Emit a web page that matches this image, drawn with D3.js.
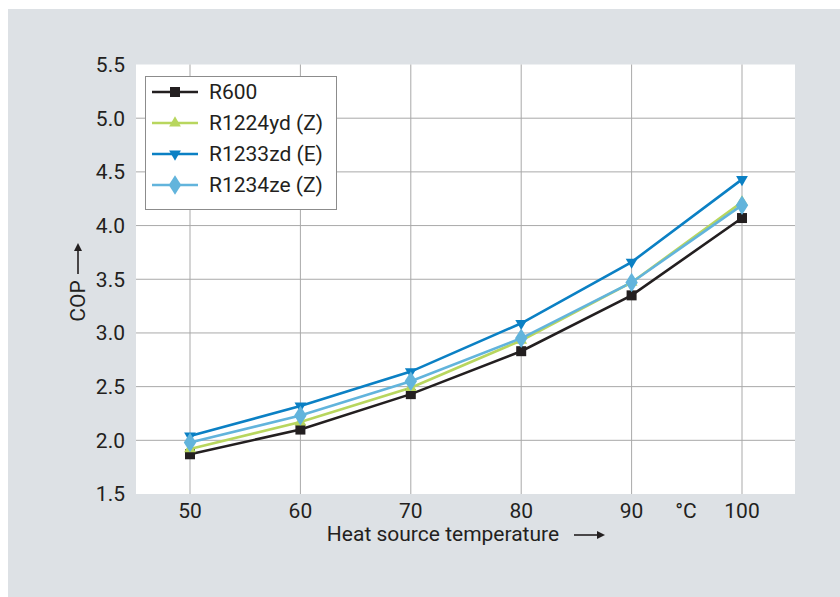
<!DOCTYPE html>
<html><head><meta charset="utf-8">
<script src="https://cdn.jsdelivr.net/npm/d3@7"></script>
<style>body{margin:0;background:#fff;}svg{display:block;font-family:Roboto, "Noto Sans", sans-serif;}</style>
</head><body>
<svg id="c" width="840" height="597"></svg>
<script>
const temps = [50, 60, 70, 80, 90, 100];
const seriesNames = ["R600", "R1224yd (Z)", "R1233zd (E)", "R1234ze (Z)"];
const r600 = [1.87, 2.10, 2.43, 2.83, 3.35, 4.07];
const r1224yd = [1.92, 2.17, 2.49, 2.93, 3.47, 4.22];
const r1233zd = [2.04, 2.32, 2.64, 3.09, 3.66, 4.43];
const r1234ze = [1.98, 2.23, 2.55, 2.95, 3.47, 4.19];
const yTicks = [1.5, 2.0, 2.5, 3.0, 3.5, 4.0, 4.5, 5.0, 5.5];
const xTicks = [50, 60, 70, 80, 90, 100];

const colors = ["#231f20", "#b8d65e", "#0b80c4", "#62b4dc"];
const symbols = ["square", "triangleUp", "triangleDown", "diamond"];
const series = [r600, r1224yd, r1233zd, r1234ze].map((v, i) => ({name: seriesNames[i], values: v, color: colors[i], sym: symbols[i]}));

const FS = 21;
const svg = d3.select("#c");
svg.append("rect").attr("x", 8).attr("y", 9).attr("width", 832).attr("height", 588).attr("fill", "#dde1e5");

const L = 136, R = 795, T = 64.5, B = 494;
const x = d3.scaleLinear().domain([50, 100]).range([190, 742]);
const y = d3.scaleLinear().domain([1.5, 5.5]).range([B, T]);

svg.append("rect").attr("x", L).attr("y", T).attr("width", R - L).attr("height", B - T).attr("fill", "#fff");

// grid
svg.append("g").selectAll("line").data(yTicks.slice(1, -1)).join("line")
  .attr("x1", L).attr("x2", R).attr("y1", d => y(d)).attr("y2", d => y(d))
  .attr("stroke", "#a9a9a9").attr("stroke-width", 1);
svg.append("g").selectAll("line").data(xTicks).join("line")
  .attr("x1", d => x(d)).attr("x2", d => x(d)).attr("y1", T).attr("y2", B)
  .attr("stroke", "#a9a9a9").attr("stroke-width", 1);

// tick labels
svg.append("g").selectAll("text").data(yTicks).join("text")
  .attr("x", 125).attr("y", d => y(d)).attr("dy", "0.35em").attr("text-anchor", "end")
  .attr("font-size", FS).attr("fill", "#231f20").text(d => d.toFixed(1));
svg.append("g").selectAll("text").data(xTicks).join("text")
  .attr("x", d => x(d)).attr("y", 518).attr("text-anchor", "middle")
  .attr("font-size", FS).attr("fill", "#231f20").text(d => d);
svg.append("text").attr("x", 686).attr("y", 518).attr("text-anchor", "middle")
  .attr("font-size", FS).attr("fill", "#231f20").text("°C");

// axis titles
svg.append("text").attr("x", 443).attr("y", 541).attr("text-anchor", "middle")
  .attr("font-size", FS).attr("fill", "#231f20").text("Heat source temperature");
const arrow = (g) => {
  g.append("line").attr("x1", 0).attr("x2", 24).attr("y1", 0).attr("y2", 0).attr("stroke", "#231f20").attr("stroke-width", 1.6);
  g.append("path").attr("d", "M23,-4 L31,0 L23,4 Z").attr("fill", "#231f20");
};
svg.append("g").attr("transform", "translate(574,535)").call(arrow);
svg.append("text").attr("transform", "translate(85,301) rotate(-90)").attr("text-anchor", "middle")
  .attr("font-size", FS).attr("fill", "#231f20").text("COP");
svg.append("g").attr("transform", "translate(78,274) rotate(-90)").call(arrow);

const symGen = {
  square: d3.symbol(d3.symbolSquare, 100),
  triangleUp: d3.symbol(d3.symbolTriangle, 60),
  triangleDown: d3.symbol(d3.symbolTriangle, 60),
  diamond: d3.symbol(d3.symbolDiamond, 110)
};
const line = d3.line().x((d, i) => x(temps[i])).y(d => y(d));

const gS = svg.append("g");
series.forEach(s => {
  gS.append("path").attr("d", line(s.values)).attr("fill", "none").attr("stroke", s.color).attr("stroke-width", 2.6);
});
series.forEach(s => {
  gS.append("g").selectAll("path").data(s.values).join("path")
    .attr("transform", (d, i) => `translate(${x(temps[i])},${y(d)})` + (s.sym === "triangleDown" ? " rotate(180)" : "") + (s.sym === "diamond" ? " scale(1.1,1)" : ""))
    .attr("d", symGen[s.sym]()).attr("fill", s.color);
});

// legend
const lg = svg.append("g");
lg.append("rect").attr("x", 145.5).attr("y", 76.5).attr("width", 191).attr("height", 133)
  .attr("fill", "#fff").attr("stroke", "#8c8c8c").attr("stroke-width", 1);
series.forEach((s, i) => {
  const yy = 92 + i * 31;
  lg.append("line").attr("x1", 152).attr("x2", 198).attr("y1", yy).attr("y2", yy).attr("stroke", s.color).attr("stroke-width", 2.6);
  lg.append("path").attr("transform", `translate(175,${yy})` + (s.sym === "triangleDown" ? " rotate(180)" : "") + (s.sym === "diamond" ? " scale(1.1,1)" : ""))
    .attr("d", symGen[s.sym]()).attr("fill", s.color);
  lg.append("text").attr("x", 209).attr("y", yy).attr("dy", "0.35em").attr("font-size", FS).attr("fill", "#231f20").text(s.name);
});
</script>
</body></html>
